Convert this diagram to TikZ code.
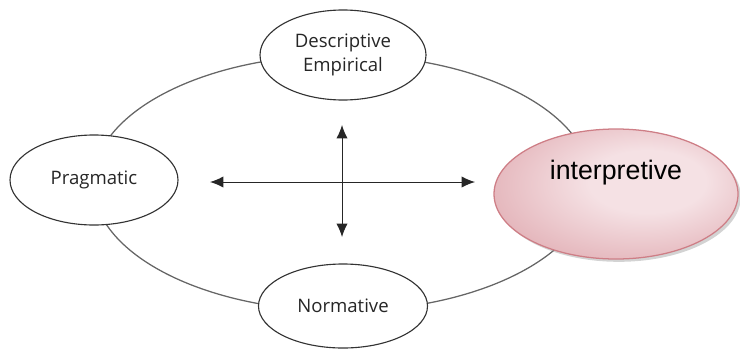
\documentclass[tikz,border=0pt]{standalone}
\usepackage{fontspec}
\newfontfamily\ringfont{Open Sans}
\newfontfamily\notefont{Liberation Sans}
\usepackage{tikz}
\usetikzlibrary{
  shapes.geometric, % Shape "ellipse"
  arrows.meta,      % Tip "Latex"
  shadows           % Key "drop shadow"
}
\definecolor{pinkdark}{RGB}{212,140,148}
\definecolor{pinklight}{RGB}{245,225,228}
\definecolor{pinkline}{RGB}{206,126,134}
\pgfdeclareradialshading{pinkglow}{\pgfpoint{8bp}{6bp}}{%
  color(0bp)=(pinklight); color(12bp)=(pinklight);
  color(32bp)=(pinkdark!55!pinklight); color(48bp)=(pinkdark);
  color(60bp)=(pinkdark)}
\def\mypx{0.025cm}
\tikzset{
  x=\mypx,
  y=\mypx,
  >={Latex[length=9.5pt,width=8pt]},
  ring/.style={
    draw=black!60,
    line width=0.9pt
  },
  axis arrow/.style={
    <->,
    draw=black!85,
    line width=0.7pt
  },
  pole/.style={
    ellipse,
    draw=black!80,
    line width=0.8pt,
    fill=white,
    inner sep=0pt,
    align=center,
    text=black!85,
    font=\ringfont\fontsize{13.2}{17.5}\selectfont
  },
  pole hl/.style={
    ellipse,
    draw=pinkline,
    line width=0.9pt,
    inner sep=0pt,
    shading=pinkglow,
    drop shadow={shadow xshift=2pt,shadow yshift=-2pt,opacity=0.35},
    text height=14pt,
    text depth=34pt,
    font=\notefont\fontsize{19}{22}\selectfont
  }
}
\begin{document}
\begin{tikzpicture}
\useasboundingbox (0,0) rectangle (740,351);
\coordinate (hub) at (342,168);
\draw[ring] (hub) ellipse [x radius=249,y radius=128];

\node[pole,minimum width=166*\mypx,minimum height=90*\mypx] (descr) at (343,296) {Descriptive\\Empirical};
\node[pole,minimum width=168*\mypx,minimum height=90*\mypx] (pragm) at (94,171) {Pragmatic};
\node[pole,minimum width=169*\mypx,minimum height=84*\mypx] (norm) at (343,45) {Normative};
\node[pole hl,minimum width=244*\mypx,minimum height=130*\mypx] (interp) at (616,157) {interpretive};

\coordinate (arrW) at (210,169);
\coordinate (arrE) at (475,169);
\coordinate (arrN) at (342,226);
\coordinate (arrS) at (342,114);
\draw[axis arrow] (arrW) -- (arrE);
\draw[axis arrow] (arrN) -- (arrS);
\end{tikzpicture}
\end{document}
